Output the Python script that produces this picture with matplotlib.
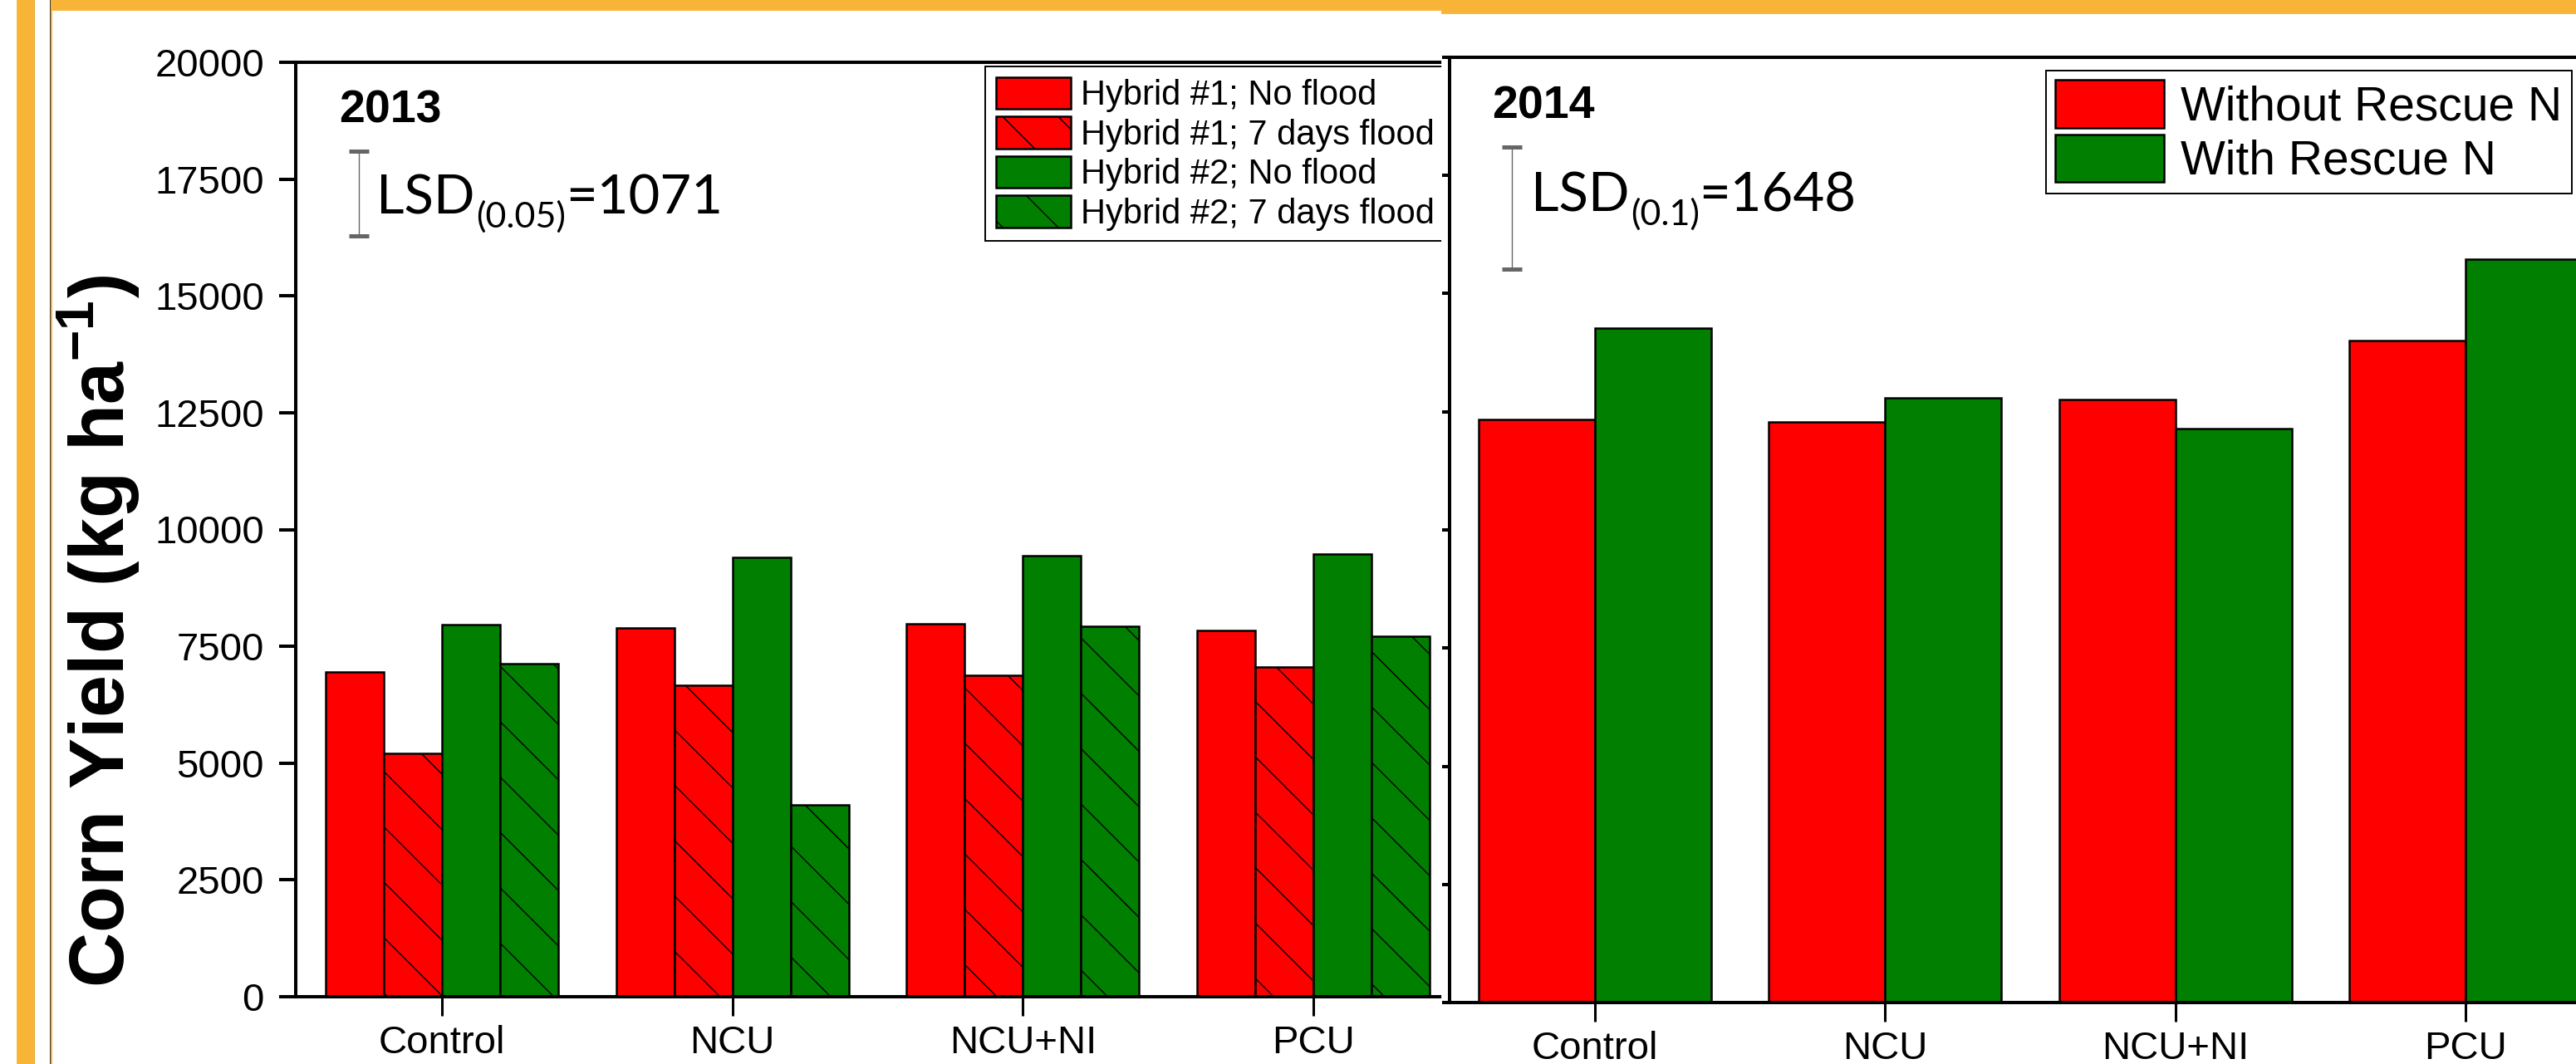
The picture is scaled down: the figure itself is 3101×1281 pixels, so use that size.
import numpy as np
import matplotlib
matplotlib.use("Agg")
import matplotlib.pyplot as plt
from matplotlib.patches import Rectangle
from matplotlib.lines import Line2D

# 데이터 (그림에서 읽은 값, kg/ha)
categories = ["Control", "NCU", "NCU+NI", "PCU"]
h1_no_flood = [6960, 7895, 7984, 7841]
h1_flood = [5212, 6675, 6882, 7049]
h2_no_flood = [7966, 9408, 9442, 9478]
h2_flood = [7125, 4110, 7925, 7712]
without_rescue = [12331, 12278, 12758, 14007]
with_rescue = [14278, 12800, 12149, 15738]

lsd_2013 = "1071"
lsd_2014 = "1648"

plt.rcParams["font.family"] = ["Liberation Sans", "DejaVu Sans"]
plt.rcParams["mathtext.fontset"] = "custom"
plt.rcParams["mathtext.rm"] = "Liberation Sans"
plt.rcParams["mathtext.bf"] = "Liberation Sans:bold"
plt.rcParams["hatch.linewidth"] = 0.5

W, H = 3101, 1281
fig = plt.figure(figsize=(W / 200, H / 200), dpi=200)
fig.patch.set_facecolor("white")


def fx(px):
    return px / W


def fy(py):
    return 1 - py / H


red = "#FF0000"
green = "#007F00"
orange = "#F8B437"
x = np.arange(len(categories))

# 2013 패널
ax1 = fig.add_axes([fx(356), fy(1200), fx(1736) - fx(356), fy(75) - fy(1200)])
bar_kw = dict(edgecolor="k", linewidth=0.9)
ax1.bar(x - 0.3, h1_no_flood, 0.2, color=red, label="Hybrid #1; No flood", **bar_kw)
ax1.bar(x - 0.1, h1_flood, 0.2, color=red, hatch="\\", label="Hybrid #1; 7 days flood", **bar_kw)
ax1.bar(x + 0.1, h2_no_flood, 0.2, color=green, label="Hybrid #2; No flood", **bar_kw)
ax1.bar(x + 0.3, h2_flood, 0.2, color=green, hatch="\\", label="Hybrid #2; 7 days flood", **bar_kw)
ax1.set_xlim(-0.503, 3.443)
ax1.set_ylim(0, 20000)
ax1.set_yticks(range(0, 20001, 2500))
ax1.set_xticks(x, categories)
ax1.spines["right"].set_visible(False)
for s in ["left", "bottom", "top"]:
    ax1.spines[s].set_linewidth(1.45)
ax1.tick_params(axis="y", length=7.2, width=1.45, pad=6.5, labelsize=17)
ax1.tick_params(axis="x", length=8.3, width=1.1, pad=4, labelsize=17)

leg1 = ax1.legend(loc="upper left", bbox_to_anchor=(fx(1186), fy(80)),
                  bbox_transform=fig.transFigure, borderaxespad=0, fontsize=15,
                  handlelength=2.16, handleheight=1.05, labelspacing=0.12,
                  handletextpad=0.29, borderpad=0.3, fancybox=False,
                  edgecolor="k", framealpha=1)
leg1.get_frame().set_linewidth(0.7)

# 2014 패널
ax2 = fig.add_axes([fx(1745), fy(1207), 4 * 349.5 / W, fy(69) - fy(1207)])
ax2.set_zorder(2)
ax2.bar(x - 0.2, without_rescue, 0.4, color=red, label="Without Rescue N", **bar_kw)
ax2.bar(x + 0.2, with_rescue, 0.4, color=green, label="With Rescue N", **bar_kw)
ax2.set_xlim(-0.5, 3.5)
ax2.set_ylim(0, 20000)
ax2.set_yticks(range(0, 20001, 2500))
ax2.set_xticks(x, categories)
ax2.spines["right"].set_visible(False)
for s in ["left", "bottom", "top"]:
    ax2.spines[s].set_linewidth(1.45)
ax2.tick_params(axis="y", length=3.2, width=1.45, labelleft=False)
ax2.tick_params(axis="x", length=8.3, width=1.1, pad=4, labelsize=17)

leg2 = ax2.legend(loc="upper left", bbox_to_anchor=(fx(2463), fy(85)),
                  bbox_transform=fig.transFigure, borderaxespad=0, fontsize=20.5,
                  handlelength=2.3, handleheight=1.17, labelspacing=0.1,
                  handletextpad=0.35, borderpad=0.2, fancybox=False,
                  edgecolor="k", framealpha=1)
leg2.get_frame().set_linewidth(0.7)

# 연도 + LSD 표시
ax1.text(-0.355, 18710, "2013", fontsize=20, fontweight="bold", va="baseline")
ax2.text(-0.355, 18716, "2014", fontsize=20, fontweight="bold", va="baseline")


def lsd_label(ax, x0, y0, sub, val):
    t1 = ax.text(x0, y0, "LSD", fontsize=23.5, family="Lato", va="baseline")
    t2 = ax.annotate(sub, xy=(1, y0), xycoords=(t1, "data"), xytext=(0.5, -5.8),
                     textcoords="offset points", fontsize=15.5, family="Lato",
                     va="baseline", ha="left")
    ax.annotate("=" + val, xy=(1, y0), xycoords=(t2, "data"), fontsize=23.5,
                family="Lato", va="baseline", ha="left")


lsd_label(ax1, -0.226, 16756, "(0.05)", lsd_2013)
lsd_label(ax2, -0.22, 16746, "(0.1)", lsd_2014)

# LSD 막대 (그림 속 길이 그대로)
for ax, lx, top, bot in [(ax1, -0.286, 18106, 16276), (ax2, -0.286, 18100, 15515)]:
    eb = ax.errorbar(lx, (top + bot) / 2, yerr=(top - bot) / 2, fmt="none",
                     ecolor="#666666", elinewidth=0.5, capsize=4.3, capthick=1.8)
    for c in eb[1]:
        c.set_color("k")

fig.text(fx(119), fy(760), r"Corn Yield (kg ha$^{\mathbf{-1}}$)", rotation=90,
         fontsize=33, fontweight="bold", ha="center", va="center")

# 테두리 장식
fig.patches.append(Rectangle((fx(1736), 0), fx(1745) - fx(1736), 1,
                             transform=fig.transFigure, color="white", zorder=1))
fig.patches.append(Rectangle((fx(21), 0), fx(40) - fx(21), 1,
                             transform=fig.transFigure, color=orange, zorder=3))
fig.patches.append(Rectangle((fx(62), fy(11)), fx(1736) - fx(62), 11 / H,
                             transform=fig.transFigure, color=orange, zorder=3))
fig.patches.append(Rectangle((fx(1736), fy(15)), 1 - fx(1736), 15 / H,
                             transform=fig.transFigure, color=orange, zorder=3))
for lx, c, lw in [(40.5, "k", 0.55), (60.5, "k", 0.55), (61.8, orange, 0.7)]:
    fig.lines.append(Line2D([fx(lx), fx(lx)], [0, 1], transform=fig.transFigure,
                            color=c, lw=lw, zorder=3))

fig.savefig("out.png", dpi=200, facecolor="white")
